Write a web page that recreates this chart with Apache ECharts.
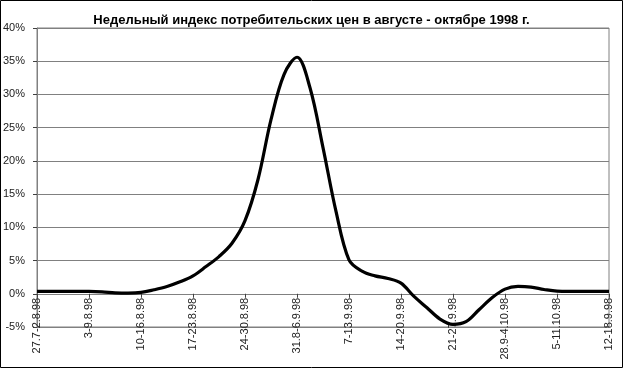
<!DOCTYPE html>
<html>
<head>
<meta charset="utf-8">
<script src="https://cdn.jsdelivr.net/npm/echarts@6/dist/echarts.min.js"></script>
<style>
html,body{margin:0;padding:0;background:#fff;}
#c{width:623px;height:368px;}
</style>
</head>
<body>
<div id="c"></div>
<script>
const titleText = 'Недельный индекс потребительских цен в августе - октябре 1998 г.';
const weekLabels = ['27.7-2.8.98','3-9.8.98','10-16.8.98','17-23.8.98','24-30.8.98','31.8-6.9.98','7-13.9.98','14-20.9.98','21-27.9.98','28.9-4.10.98','5-11.10.98','12-18.9.98'];
// position along the week axis (0 = first week)
const weekPos = [0,0.5,1,1.25,1.5,1.75,2,2.25,2.5,2.75,3,3.25,3.5,3.75,4,4.25,4.5,4.75,5,5.25,5.5,5.75,6,6.25,6.5,6.75,7,7.25,7.5,7.75,8,8.25,8.5,8.75,9,9.25,9.5,9.75,10,10.5,11];
// weekly CPI index, %
const cpi = [0.35,0.35,0.35,0.3,0.15,0.1,0.2,0.6,1.1,1.8,2.7,4.1,5.6,7.6,11.0,17.2,26.2,33.0,35.6,31.0,22.0,12.4,5.1,3.4,2.7,2.3,1.6,-0.4,-2.1,-3.8,-4.6,-4.2,-2.4,-0.6,0.7,1.1,1.0,0.65,0.4,0.35,0.35];
const yTicks = {min:-5, max:40, step:5};

const gridTop = 28, gridBottom = 41, H = 368;
const plotH = H - gridTop - gridBottom;
const zeroOffset = plotH * (0 - yTicks.min) / (yTicks.max - yTicks.min);

const chart = echarts.init(document.getElementById('c'), null, {renderer:'canvas'});
const font = 'Liberation Sans, Arial, sans-serif';
chart.setOption({
  animation:false,
  backgroundColor:'#fff',
  title:{
    text:titleText, left:'center', top:9,
    textStyle:{fontFamily:font, fontSize:13, fontWeight:'bold', color:'#000'}
  },
  graphic:[{type:'rect', shape:{x:0.5,y:0.5,width:622,height:367}, style:{fill:'none', stroke:'#000', lineWidth:1}, silent:true}],
  grid:{left:37, right:14, top:gridTop, bottom:gridBottom, show:true, borderColor:'#808080', borderWidth:1, containLabel:false, outerBoundsMode:'none'},
  xAxis:{
    type:'value', min:0, max:weekLabels.length-1, interval:1,
    position:'bottom', offset:-zeroOffset,
    axisLine:{onZero:false, lineStyle:{color:'#808080', width:1}},
    axisTick:{show:true, length:4, lineStyle:{color:'#404040'}},
    splitLine:{show:false},
    axisLabel:{
      rotate:90, fontFamily:font, fontSize:11, color:'#222', margin:4,
      showMinLabel:true, showMaxLabel:true,
      formatter:(v)=>weekLabels[Math.round(v)] || ''
    }
  },
  yAxis:{
    type:'value', min:yTicks.min, max:yTicks.max, interval:yTicks.step,
    axisLine:{show:true, lineStyle:{color:'#808080'}},
    axisTick:{show:true, length:4, lineStyle:{color:'#404040'}},
    splitLine:{show:true, lineStyle:{color:'#808080', width:1}},
    axisLabel:{fontFamily:font, fontSize:11, color:'#222', margin:12, formatter:'{value}%'}
  },
  series:[{
    type:'line', smooth:0.35, showSymbol:false,
    data:weekPos.map((x,i)=>[x,cpi[i]]),
    lineStyle:{color:'#000', width:3.2}
  }]
});
</script>
</body>
</html>
